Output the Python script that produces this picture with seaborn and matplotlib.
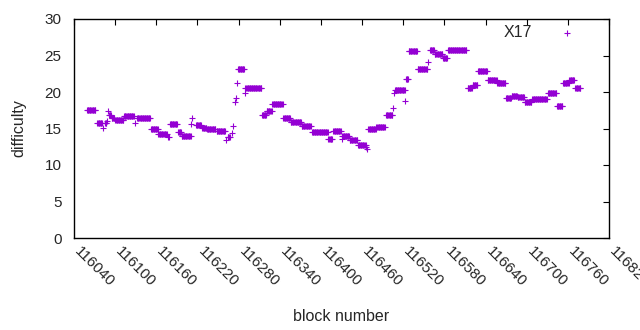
import numpy as np
import pandas as pd
import matplotlib
matplotlib.use("Agg")
import matplotlib.pyplot as plt
import seaborn as sns

# ------------------------------
# Data: runs of constant difficulty (first block, last block, value)
# ------------------------------
run_start = [116059, 116074, 116083, 116085, 116088, 116089, 116091, 116095, 116100, 116113,
             116129, 116132, 116152, 116163, 116177, 116180, 116192, 116197, 116211, 116212,
             116218, 116227, 116234, 116248, 116262, 116264, 116270, 116272, 116275, 116276,
             116277, 116279, 116289, 116290, 116314, 116321, 116329, 116345, 116356, 116372,
             116387, 116411, 116418, 116430, 116431, 116442, 116454, 116466, 116467, 116469,
             116481, 116495, 116505, 116506, 116508, 116523, 116524, 116528, 116541, 116556,
             116559, 116566, 116578, 116585, 116614, 116621, 116629, 116643, 116657, 116670,
             116678, 116687, 116697, 116708, 116719, 116731, 116744, 116753, 116762, 116771]
run_end = [116071, 116081, 116083, 116087, 116088, 116089, 116094, 116099, 116112, 116127,
           116129, 116151, 116162, 116175, 116178, 116190, 116196, 116210, 116211, 116212,
           116225, 116233, 116246, 116260, 116262, 116267, 116270, 116272, 116275, 116276,
           116277, 116288, 116289, 116313, 116320, 116328, 116344, 116355, 116371, 116385,
           116410, 116416, 116429, 116430, 116441, 116453, 116465, 116466, 116467, 116480,
           116493, 116504, 116505, 116506, 116522, 116523, 116527, 116540, 116555, 116556,
           116565, 116577, 116584, 116612, 116620, 116628, 116642, 116656, 116669, 116677,
           116686, 116696, 116707, 116718, 116729, 116743, 116752, 116761, 116769, 116778]
run_difficulty = [17.6, 15.7, 15.1, 15.8, 16.0, 17.4, 16.9, 16.5, 16.1, 16.7,
                  15.7, 16.4, 15.0, 14.2, 13.8, 15.6, 14.5, 14.0, 15.6, 16.4,
                  15.5, 15.1, 14.9, 14.7, 13.4, 13.9, 14.4, 15.3, 18.6, 19.2,
                  21.2, 23.2, 19.9, 20.6, 16.8, 17.4, 18.3, 16.5, 15.9, 15.4,
                  14.5, 13.6, 14.7, 13.6, 14.0, 13.4, 12.8, 12.5, 12.2, 15.0,
                  15.2, 16.8, 17.8, 19.9, 20.3, 18.8, 21.8, 25.6, 23.1, 24.1,
                  25.8, 25.2, 24.6, 25.8, 20.5, 21.0, 22.9, 21.7, 21.2, 19.2,
                  19.5, 19.3, 18.6, 19.1, 19.0, 19.9, 18.1, 21.2, 21.6, 20.6]

x_ticks = list(range(116040, 116821, 60))
y_ticks = [0, 5, 10, 15, 20, 25, 30]

# one point per block inside each run
blocks = np.concatenate([np.arange(s, e + 1) for s, e in zip(run_start, run_end)])
counts = [e - s + 1 for s, e in zip(run_start, run_end)]
df = pd.DataFrame({"block": blocks, "difficulty": np.repeat(run_difficulty, counts)})

# ------------------------------
# Plot
# ------------------------------
sns.set_style("white")
plt.rcParams["font.family"] = ["Liberation Sans", "DejaVu Sans"]
plt.rcParams["xtick.direction"] = "in"
plt.rcParams["ytick.direction"] = "in"

fig = plt.figure(figsize=(6.4, 3.3), dpi=100)
ax = fig.add_axes([74 / 640, 1 - 238 / 330, 535 / 640, 219 / 330])

sns.scatterplot(data=df, x="block", y="difficulty", marker="+", color="#9400D3",
                s=22, linewidth=0.8, label="X17", ax=ax)

ax.set_xlim(116040, 116820)
ax.set_ylim(0, 30)
ax.set_xticks(x_ticks)
ax.set_yticks(y_ticks)
ax.set_xticklabels([str(t) for t in x_ticks], rotation=-45, ha="left", va="baseline",
                   rotation_mode="anchor", fontsize=11)
ax.set_yticklabels([str(t) for t in y_ticks], fontsize=11)
ax.tick_params(top=True, right=True, length=4, width=0.8, color="black")
ax.tick_params(axis="y", pad=9)
ax.tick_params(axis="x", pad=10)

for side in ax.spines.values():
    side.set_color("black")
    side.set_linewidth(1)

ax.set_xlabel("block number", fontsize=11.5, labelpad=14)
ax.set_ylabel("difficulty", fontsize=11.5, labelpad=13)

leg = ax.legend(loc="upper right", frameon=False, markerfirst=False, fontsize=11.5,
                handlelength=2.5, handletextpad=0.9, borderaxespad=0.3,
                bbox_to_anchor=(0.979, 1.023))
for h in leg.legend_handles:
    h.set_sizes([22])

fig.savefig("out.png", dpi=100)
